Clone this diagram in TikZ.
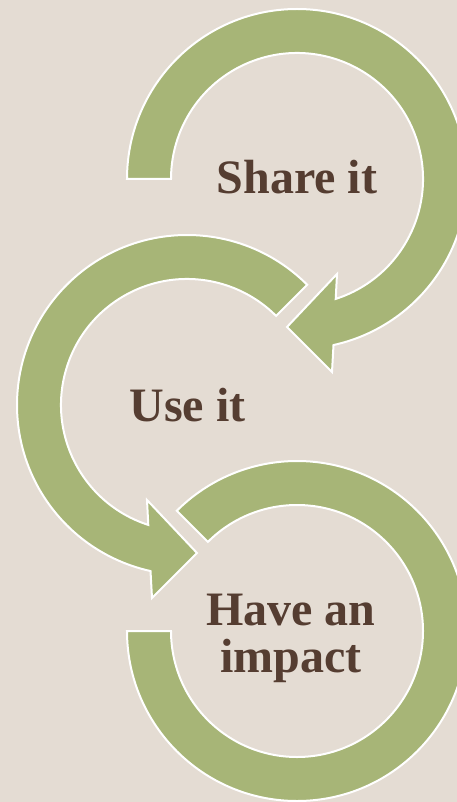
\documentclass[tikz,border=0pt]{standalone}
\usepackage{fontspec}
\setmainfont{Liberation Serif}
\definecolor{bgbeige}{HTML}{E4DCD3}
\definecolor{ringgreen}{HTML}{A7B577}
\definecolor{txtbrown}{HTML}{553D31}
\begin{document}
\begin{tikzpicture}[x=1pt,y=-1pt,
  ring/.style={fill=ringgreen, draw=white, line width=2pt, line join=miter},
  steptext/.style={text=txtbrown, font=\bfseries\fontsize{48}{47}\selectfont, inner sep=0pt}]
\fill[bgbeige] (0,0) rectangle (457,802);
\useasboundingbox (0,0) rectangle (457,802);
\clip (0,0) rectangle (457,802);
% ring 1 (Share it)
\begin{scope}[shift={(297,179)}]
\draw[ring] (-180:170) arc[start angle=-180, end angle=77.6, radius=170]
  -- (35,193) -- (-10,148) -- (40,95) -- (72.1:126)
  arc[start angle=72.1, end angle=-180, radius=126] -- cycle;
\end{scope}
% ring 2 (Use it)
\begin{scope}[shift={(187,405)}]
\draw[ring] (-45:170) arc[start angle=-45, end angle=-257.6, radius=170]
  -- (-35,193) -- (10,148) -- (-40,95) -- (-252.1:126)
  arc[start angle=-252.1, end angle=-45, radius=126] -- cycle;
\end{scope}
% ring 3 (Have an impact)
\begin{scope}[shift={(297,631)}]
\draw[ring] (180:170) arc[start angle=180, end angle=-135, radius=170]
  -- (-135:126) arc[start angle=-135, end angle=180, radius=126] -- cycle;
\end{scope}
\node[steptext, anchor=base] (share) at (297,194) {Share it};
\node[steptext, anchor=base] (use) at (187.5,421.7) {Use it};
\node[steptext, align=center] (impact) at (291,638) {Have an\\impact};
\end{tikzpicture}
\end{document}
